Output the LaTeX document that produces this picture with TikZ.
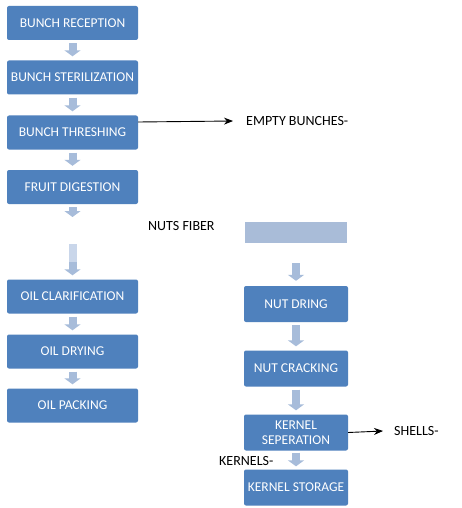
\documentclass[tikz,border=0pt]{standalone}
\usepackage{fontspec}
\setmainfont{Carlito}
\usetikzlibrary{arrows.meta}
\definecolor{boxc}{HTML}{4F81BD}
\definecolor{arrc}{HTML}{A7BCDA}
\definecolor{palec}{HTML}{C9D6EA}
\definecolor{fadec}{HTML}{A9BCD8}
\begin{document}
\begin{tikzpicture}[x=1pt,y=-1pt,
  box/.style={fill=boxc, rounded corners=2pt, text=white, inner sep=0pt, align=center,
    font=\fontsize{13.5}{14.5}\selectfont},
  lbox/.style={box, minimum width=131pt, minimum height=34pt},
  rbox/.style={box, minimum width=104pt, minimum height=36pt},
  blk/.style={draw=arrc, line width=8pt, -{Triangle[width=16pt,length=6pt]}},
  gap/.style={shorten <=3pt, shorten >=4pt},
  lbl/.style={font=\fontsize{14}{16}\selectfont, inner sep=0pt, anchor=west},
  tharr/.style={draw=black, line width=0.9pt, -{Stealth[length=9pt,width=7pt]}}]
\fill[white] (0,0) rectangle (462,508);
\useasboundingbox (0,0) rectangle (462,508);
% left column
\node[lbox] (rec)  at (72.5,23)    {BUNCH RECEPTION};
\node[lbox] (ster) at (72.5,77.5)  {BUNCH STERILIZATION};
\node[lbox] (thr)  at (72.5,132.5) {BUNCH THRESHING};
\node[lbox] (dig)  at (72.5,187)   {FRUIT DIGESTION};
\node[lbox] (cla)  at (72.5,296.5) {OIL CLARIFICATION};
\node[lbox] (dry)  at (72.5,351.5) {OIL DRYING};
\node[lbox] (pac)  at (72.5,405.5) {OIL PACKING};
% right column
\node[fill=fadec, minimum width=102pt, minimum height=21pt, inner sep=0pt] (fib) at (296,232.5) {};
\node[rbox] (nd)  at (296,304)   {NUT DRING};
\node[rbox] (nc)  at (296,368.5) {NUT CRACKING};
\node[rbox] (ks)  at (296,432.5) {KERNEL\\SEPERATION};
\node[rbox] (kst) at (296,487.5) {KERNEL STORAGE};
% labels
\node[lbl] (eb) at (246,121) {EMPTY BUNCHES-};
\node[lbl] (nf) at (148,226) {NUTS FIBER};
\node[lbl] (sh) at (394,431) {SHELLS-};
\node[lbl] (kn) at (219,461) {KERNELS-};
% block arrows
\draw[blk,gap] (rec) -- (ster);
\draw[blk,gap] (ster) -- (thr);
\draw[blk,gap] (thr) -- (dig);
\coordinate (d1) at (72.5,221);
\draw[blk,gap] (dig) -- (d1);
\coordinate (p1) at (72.5,244);
\coordinate (p2) at (72.5,262);
\draw[draw=palec, line width=8pt] (p1) -- (p2);
\draw[blk, shorten >=4pt] (p2) -- (cla);
\draw[blk,gap] (cla) -- (dry);
\draw[blk,gap] (dry) -- (pac);
\draw[blk, shorten <=20pt, shorten >=5pt] (fib) -- (nd);
\draw[blk,gap] (nd) -- (nc);
\draw[blk,gap] (nc) -- (ks);
\draw[blk, shorten <=2pt, shorten >=3pt] (ks) -- (kst);
% thin arrows
\draw[tharr] ([yshift=10.5pt]thr.east) -- ([xshift=-13pt]eb.west);
\draw[tharr] (ks.east) -- ([xshift=-11pt]sh.west);
\end{tikzpicture}
\end{document}
